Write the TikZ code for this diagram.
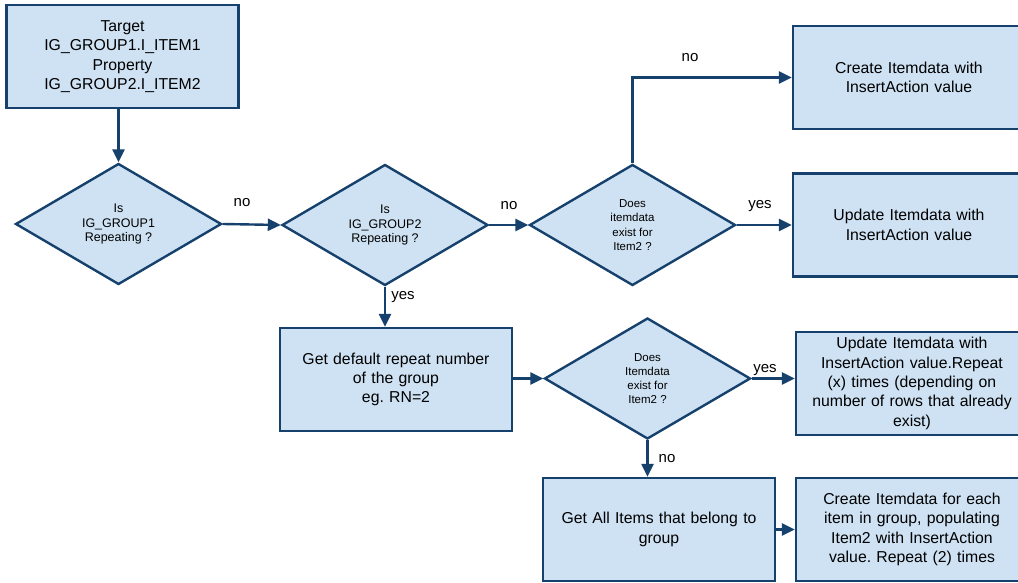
\documentclass[tikz,border=0pt]{standalone}
\usepackage{fontspec}
\setmainfont{Liberation Sans}
\usetikzlibrary{shapes.geometric,arrows.meta}

\definecolor{boxfill}{RGB}{207,226,243}
\definecolor{boxline}{RGB}{22,65,108}

\tikzset{
  procbox/.style={draw=boxline,fill=boxfill,line width=2.4pt,rectangle,
    minimum width=232pt,minimum height=103pt,text width=226pt,align=center,
    inner sep=0pt,font=\fontsize{15.8}{19.3}\selectfont},
  decision/.style={draw=boxline,fill=boxfill,line width=2.4pt,diamond,
    minimum width=206pt,minimum height=121pt,align=center,inner sep=0pt,
    font=\fontsize{12.5}{14.5}\selectfont},
  flow/.style={draw=boxline,line width=2.4pt,-{Triangle[length=13pt,width=12pt]}},
  answer/.style={inner sep=0pt,font=\fontsize{15}{16}\selectfont}
}

\begin{document}
\begin{tikzpicture}[x=1pt,y=1pt,yscale=-1]
                \useasboundingbox (0,0) rectangle (1018,583);

                %Start box
                \node [procbox] (target) at (122.5,56.5) {Target\\IG\_GROUP1.I\_ITEM1\\Property\\IG\_GROUP2.I\_ITEM2};
                %Decisions
                \node [decision] (grp1) at (118.5,224) {Is\\IG\_GROUP1\\Repeating ?};
                \node [decision] (grp2) at (385,225) {Is\\IG\_GROUP2\\Repeating ?};
                \node [decision,font=\fontsize{11.5}{14.5}\selectfont] (exist1) at (632.5,225) {Does\\itemdata\\exist for\\Item2 ?};
                \node [decision,font=\fontsize{11.5}{14}\selectfont] (exist2) at (647.5,378.5) {Does\\Itemdata\\exist for\\Item2 ?};
                %Action boxes
                \node [procbox] (create) at (909,77.5) {Create Itemdata with\\InsertAction value};
                \node [procbox] (update) at (909,225) {Update Itemdata with\\InsertAction value};
                \node [procbox] (getdef) at (396,379.5) {Get default repeat number\\of the group\\eg.\ RN=2};
                \node [procbox] (updrep) at (912,383.5) {Update Itemdata with\\InsertAction value.Repeat\\(x) times (depending on\\number of rows that already\\exist)};
                \node [procbox] (getall) at (659,529.5) {Get All Items that belong to\\group};
                \node [procbox] (crrep) at (912,529.5) {Create Itemdata for each\\item in group, populating\\Item2 with InsertAction\\value.\ Repeat (2) times};

                %Connectors
                \draw [flow] (grp1.north |- target.south) -- (grp1.north);
                \draw [flow] (grp1.east) -- (grp2.west);
                \draw [flow] (grp2.east) -- (exist1.west);
                \draw [flow] (exist1.north) |- (create.west);
                \draw [flow] (exist1.east) -- (update.west);
                \draw [flow] (grp2.south) -- (grp2.south |- getdef.north);
                \draw [flow] (getdef.east |- exist2.west) -- (exist2.west);
                \draw [flow] (exist2.east) -- (exist2.east -| updrep.west);
                \draw [flow] (exist2.south) -- (exist2.south |- getall.north);
                \draw [flow] (getall.east) -- (crrep.west);

                %Answer labels
                \node [answer] (no1) at (242,203) {no};
                \node [answer] (no2) at (509,206) {no};
                \node [answer] (no3) at (690,58) {no};
                \node [answer] (yes1) at (760,206) {yes};
                \node [answer] (yes2) at (403,297) {yes};
                \node [answer] (yes3) at (765,370) {yes};
                \node [answer] (no4) at (667,459) {no};

\end{tikzpicture}
\end{document}
